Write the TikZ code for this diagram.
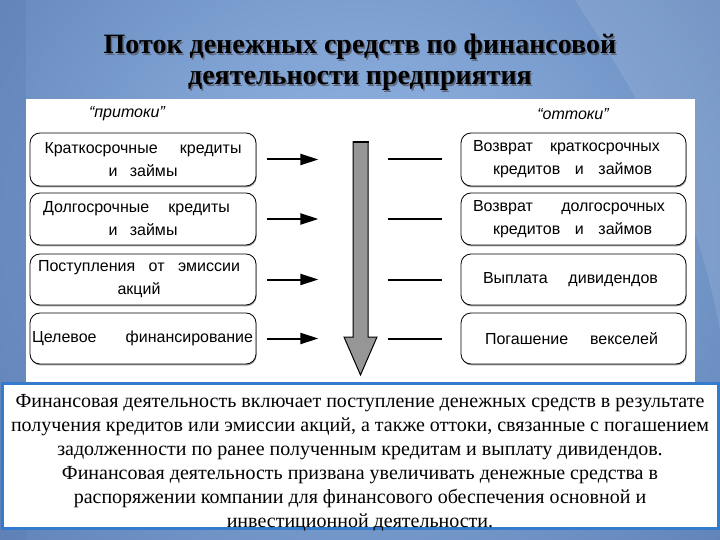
\documentclass[tikz,border=0pt]{standalone}
\usepackage{fontspec}
\setmainfont{Liberation Serif}
\newfontfamily\boxfont{Liberation Sans}
\usetikzlibrary{arrows.meta,shadows}
\definecolor{bgdark}{RGB}{90,124,178}
\definecolor{bglight}{RGB}{150,186,232}
\definecolor{frameblue}{RGB}{52,122,205}
\definecolor{arrowgray}{RGB}{150,150,150}
\definecolor{titleshadow}{RGB}{95,105,125}
\newcommand\bline[3]{\makebox[#1][s]{#2}\hspace*{#3}}
\begin{document}
\begin{tikzpicture}[x=1pt,y=-1pt,
  flowbox/.style={draw=black, line width=0.8pt, rounded corners=10pt, fill=white,
    minimum height=52pt, inner sep=0pt, align=center,
    font=\boxfont\fontsize{16}{23}\selectfont,
    drop shadow={shadow xshift=0.6pt, shadow yshift=-1.4pt, fill=black!55, opacity=0.7}},
  leftbox/.style={flowbox, minimum width=226pt},
  rightbox/.style={flowbox, minimum width=225pt},
  inflow/.style={line width=2pt, -{Triangle[length=18pt,width=11pt]}},
  outflow/.style={line width=2pt},
  tagtext/.style={font=\boxfont\itshape\fontsize{16}{18}\selectfont, inner sep=0pt},
  titletext/.style={align=center, inner sep=0pt, font=\bfseries\fontsize{28}{31}\selectfont}
]
\useasboundingbox (0,0) rectangle (720,540);
% background
\shade[inner color=bglight, outer color=bgdark] (-200,-300) rectangle (920,760);
\fill[white, opacity=0.10] (575,0) .. controls (620,70) and (690,170) .. (720,330) -- (720,0) -- cycle;
\fill[bgdark, opacity=0.35] (0,0) rectangle (26,540);
% title
\node[titletext, text=titleshadow] (titleshd) at (361.5,64) {Поток денежных средств по финансовой\\деятельности предприятия};
\node[titletext] (title) at (360,62.5) {Поток денежных средств по финансовой\\деятельности предприятия};
% white panel
\fill[white] (26,99) rectangle (695,385);
% labels
\node[tagtext] (intag) at (127,114) {“притоки”};
\node[tagtext] (outtag) at (573,114) {“оттоки”};
% left boxes
\node[leftbox, minimum height=53pt] (l1) at (143,159.5) {\bline{197pt}{Краткосрочные кредиты}{0pt}\\\bline{69pt}{и займы}{0pt}};
\node[leftbox] (l2) at (143,219) {\bline{187pt}{Долгосрочные кредиты}{13pt}\\\bline{69pt}{и займы}{0pt}};
\node[leftbox, minimum height=51pt] (l3) at (143,279.5) {\bline{202pt}{Поступления от эмиссии}{8pt}\\акций\hspace*{8pt}};
\node[leftbox, minimum height=51pt] (l4) at (143,338.5) {\bline{221pt}{Целевое финансирование}{1pt}};
% right boxes
\node[rightbox, minimum height=53pt] (r1) at (573.5,159.5) {\bline{187pt}{Возврат краткосрочных}{14pt}\\\bline{159pt}{кредитов и займов}{2pt}};
\node[rightbox] (r2) at (573.5,219) {\bline{192pt}{Возврат долгосрочных}{9pt}\\\bline{159pt}{кредитов и займов}{2pt}};
\node[rightbox, minimum height=51pt] (r3) at (573.5,279.5) {\bline{175pt}{Выплата дивидендов}{6pt}};
\node[rightbox, minimum height=51pt] (r4) at (573.5,338.5) {\bline{173pt}{Погашение векселей}{4pt}};
% big gray arrow
\draw[fill=arrowgray, line width=1pt, line join=miter]
  (353,142) -- (368,142) -- (368,337) -- (377,337) -- (360.5,375) -- (344,337) -- (353,337) -- cycle;
\draw[line width=2.5pt] (352.5,142) -- (368.5,142);
% connectors
\foreach \i in {1,2,3,4}{
  \draw[inflow] ([xshift=11pt]l\i.east) -- ([xshift=62pt]l\i.east);
  \draw[outflow] ([xshift=-73pt]r\i.west) -- ([xshift=-19pt]r\i.west);
}
% bottom text box
\node[draw=frameblue, line width=3pt, fill=white, minimum width=716pt, minimum height=145pt, inner sep=0pt] (infobox) at (360,456) {};
\node[align=center, inner sep=0pt, font=\fontsize{20}{24}\selectfont] (infotext) at (360,462.5)
 {Финансовая деятельность включает поступление денежных средств в результате\\
  получения кредитов или эмиссии акций, а также оттоки, связанные с погашением\\
  задолженности по ранее полученным кредитам и выплату дивидендов.\\
  Финансовая деятельность призвана увеличивать денежные средства в\\
  распоряжении компании для финансового обеспечения основной и\\
  инвестиционной деятельности.};
\end{tikzpicture}
\end{document}
